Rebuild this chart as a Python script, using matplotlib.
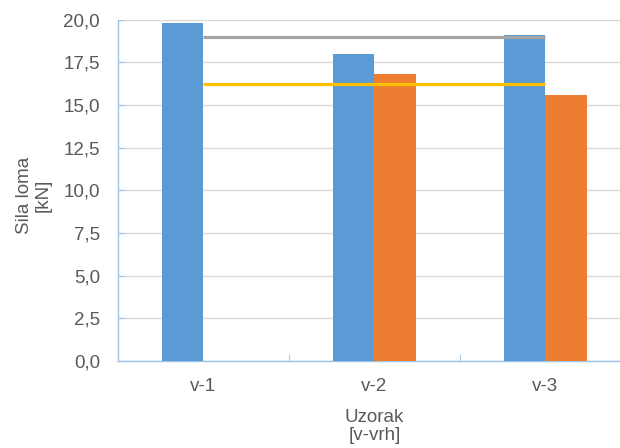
import matplotlib
matplotlib.use("Agg")
import matplotlib.pyplot as plt
import numpy as np
from matplotlib.ticker import FixedLocator, FuncFormatter

categories = ["v-1", "v-2", "v-3"]
series_a = [19.8, 18.0, 19.1]
series_b = [np.nan, 16.8, 15.6]
mean_a = 18.97
mean_b = 16.2
y_ticks = [0, 2.5, 5, 7.5, 10, 12.5, 15, 17.5, 20]

plt.rcParams["font.family"] = ["Liberation Sans", "DejaVu Sans"]

text_col = "#595959"
axis_col = "#9DC3E6"
grid_col = "#D9D9D9"
fs = 13.5

fig = plt.figure(figsize=(6.2, 4.48), dpi=100)
W, H = 620, 448
left, right, top, bottom = 118, 631, 19.5, 361
ax = fig.add_axes([left / W, 1 - bottom / H, (right - left) / W, (bottom - top) / H])

x = np.arange(len(categories))
bw = 0.24
ax.bar(x - bw / 2, series_a, width=bw, color="#5B9BD5", zorder=3)
ax.bar(x + bw / 2, series_b, width=bw, color="#ED7D31", zorder=3)
ax.plot([x[0], x[-1]], [mean_a, mean_a], color="#A5A5A5", lw=2.3, zorder=4,
        solid_capstyle="butt")
ax.plot([x[0], x[-1]], [mean_b, mean_b], color="#FFC000", lw=2.3, zorder=4,
        solid_capstyle="butt")

ax.set_xlim(-0.5, 2.5)
ax.set_ylim(0, 20)
ax.yaxis.set_major_locator(FixedLocator(y_ticks))
ax.yaxis.set_major_formatter(FuncFormatter(lambda v, p: f"{v:.1f}".replace(".", ",")))
ax.grid(axis="y", color=grid_col, lw=1, zorder=0)

ax.set_xticks(x)
ax.set_xticklabels(categories)
ax.set_xticks([0.5, 1.5], minor=True)
ax.tick_params(axis="x", which="major", length=0, pad=12, labelsize=fs, labelcolor=text_col)
ax.tick_params(axis="x", which="minor", length=5, direction="in", color=axis_col)
ax.tick_params(axis="y", length=4, direction="in", color=axis_col, labelsize=fs,
               labelcolor=text_col, pad=13)

for s in ["top", "right"]:
    ax.spines[s].set_visible(False)
for s in ["left", "bottom"]:
    ax.spines[s].set_color(axis_col)
    ax.spines[s].set_linewidth(1)

ax.set_ylabel("Sila loma\n[kN]", fontsize=fs, color=text_col,
              linespacing=1.15, multialignment="center")
ax.yaxis.set_label_coords(-0.1285, 0.486)
ax.set_xlabel("Uzorak\n[v-vrh]", fontsize=fs, color=text_col, labelpad=10,
              linespacing=1.1, multialignment="center")

fig.savefig("out.png", dpi=100)
